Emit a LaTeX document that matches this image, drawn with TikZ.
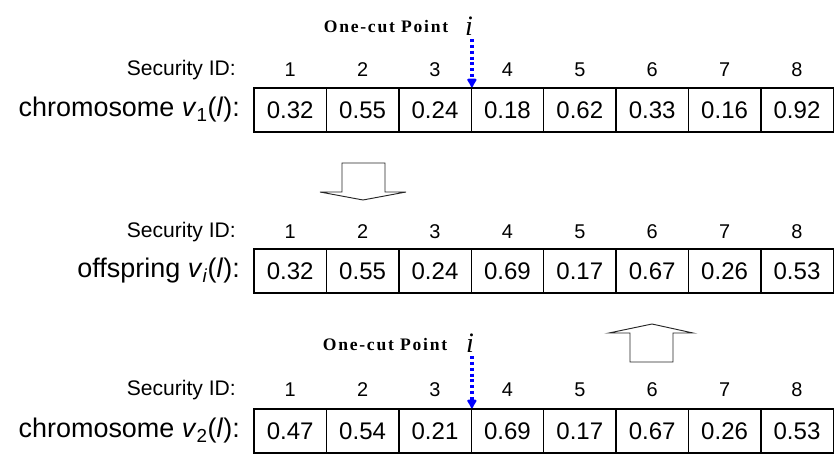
\documentclass[tikz,border=0pt]{standalone}
\usepackage{fontspec}
\setmainfont{Liberation Sans}
\newfontfamily\cutfont[LetterSpace=10]{Liberation Serif}
\newfontfamily\serifit{Liberation Serif}
\usetikzlibrary{arrows.meta}

\tikzset{
  cell/.style={draw, line width=1.2pt, minimum width=2.172cm, minimum height=1.32cm,
    inner sep=0pt, font=\fontsize{20.5}{22}\selectfont},
  rowlabel/.style={anchor=east, inner sep=0pt, font=\fontsize{23}{25}\selectfont},
  idlabel/.style={anchor=east, inner sep=0pt, font=\fontsize{18}{20}\selectfont},
  idnum/.style={inner sep=0pt, font=\fontsize{17}{19}\selectfont},
  cutlabel/.style={inner sep=0pt, font=\cutfont\bfseries\fontsize{15}{17}\selectfont},
  cutvar/.style={inner sep=0pt, font=\serifit\itshape\fontsize{24}{26}\selectfont},
  cutline/.style={draw=blue, line width=3pt, dash pattern=on 2.5pt off 2.5pt, shorten <=3pt,
    -{Latex[length=9pt,width=10pt,round,fill=blue]}},
  blockarrow/.style={draw=black!85, line width=0.8pt, fill=white}
}

\begin{document}
\begin{tikzpicture}[x=0.03cm, y=-0.03cm]
\useasboundingbox (0,0) rectangle (837,456);

% security ids above each row
\foreach \r/\y in {1/70, 2/232, 3/390} {
  \node[idlabel] (id\r) at (236,\y) {Security ID:};
  \foreach \i in {1,...,8}
    \node[idnum] (n\r-\i) at ({254+72.4*(\i-0.5)},\y) {\i};
}

% the three strings of genes
\foreach \r/\y/\vals in {1/110/{0.32,0.55,0.24,0.18,0.62,0.33,0.16,0.92},
                         2/271/{0.32,0.55,0.24,0.69,0.17,0.67,0.26,0.53},
                         3/431/{0.47,0.54,0.21,0.69,0.17,0.67,0.26,0.53}} {
  \foreach \v [count=\i] in \vals
    \node[cell] (c\r-\i) at ({254+72.4*(\i-0.5)},\y) {\v};
}

\node[rowlabel] (lab1) at (240,110) {chromosome \textit{v}\textsubscript{1}(\textit{l}):};
\node[rowlabel] (lab2) at (240,271) {offspring \textit{v}\textsubscript{\textit{i}}(\textit{l}):};
\node[rowlabel] (lab3) at (240,431) {chromosome \textit{v}\textsubscript{2}(\textit{l}):};

% cut points
\node[cutlabel] (cut1) at (386,27) {One-cut Point};
\node[cutvar] (var1) at (469,26) {i};
\draw[cutline] (var1.south -| c1-3.north east) -- (c1-3.north east);

\node[cutlabel] (cut3) at (385,345) {One-cut Point};
\node[cutvar] (var3) at (470,343) {i};
\draw[cutline] (var3.south -| c3-3.north east) -- (c3-3.north east);

% hollow block arrows
\draw[blockarrow] (342,163) -- (385,163) -- (385,192) -- (406,192) -- (363,200)
  -- (320,192) -- (342,192) -- cycle;
\draw[blockarrow] (630,362) -- (673,362) -- (673,333) -- (693,333) -- (652,324)
  -- (609,333) -- (630,333) -- cycle;
\end{tikzpicture}
\end{document}
